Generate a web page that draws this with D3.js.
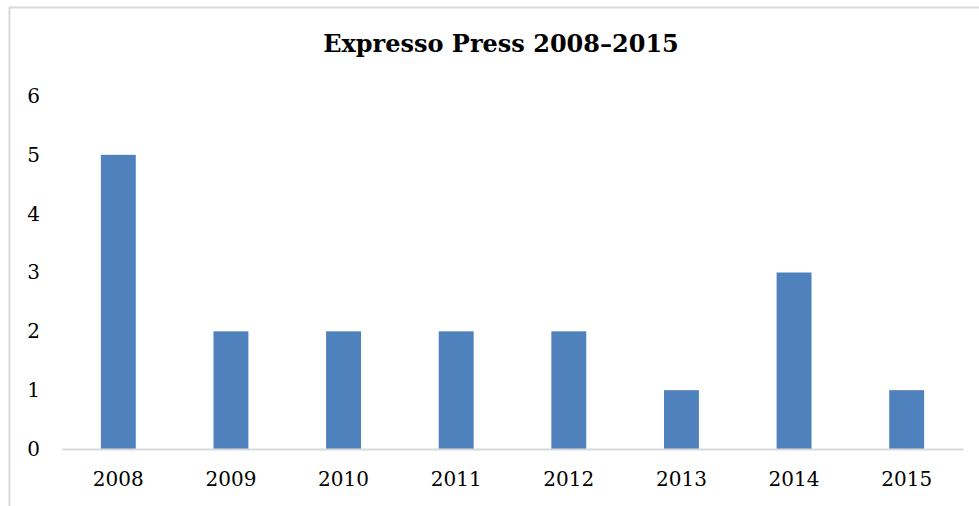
<!DOCTYPE html>
<html><head><meta charset="utf-8">
<script src="https://cdn.jsdelivr.net/npm/d3@7"></script>
<style>body{margin:0;background:#fff}</style>
</head><body>
<svg id="c" width="979" height="506"></svg>
<script>
const categories = ["2008","2009","2010","2011","2012","2013","2014","2015"];
const values = [5,2,2,2,2,1,3,1];
const yTicks = [0,1,2,3,4,5,6];
const title = "Expresso Press 2008–2015";

const svg = d3.select("#c");
svg.append("rect").attr("x",9.5).attr("y",7.5).attr("width",990).attr("height",520)
  .attr("fill","#fff").attr("stroke","#d9d9d9").attr("stroke-width",2);

const x = d3.scaleBand().domain(categories).range([62,963]).paddingInner(0.69).paddingOuter(0.345);
const y = d3.scaleLinear().domain([0,6]).range([449,96]);

svg.append("text").attr("x",501).attr("y",52).attr("text-anchor","middle")
  .attr("font-family","DejaVu Serif").attr("font-weight","bold").attr("font-size",24)
  .text(title);

svg.selectAll(".bar").data(values).enter().append("rect")
  .attr("x",(d,i)=>x(categories[i])).attr("width",x.bandwidth())
  .attr("y",d=>y(d)).attr("height",d=>y(0)-y(d)).attr("fill","#4F81BD");

const xa = svg.append("g").attr("transform","translate(0,449)")
  .call(d3.axisBottom(x).tickSize(0).tickPadding(23));
xa.select(".domain").attr("stroke","#d9d9d9").attr("stroke-width",2);
xa.selectAll("text").attr("font-family","DejaVu Serif").attr("font-size",20).attr("fill","#000").attr("dy","0.71em");

const ya = svg.append("g").attr("transform","translate(40,0)")
  .call(d3.axisLeft(y).tickValues(yTicks).tickSize(0).tickPadding(0).tickFormat(d3.format("d")));
ya.select(".domain").remove();
ya.selectAll("text").attr("font-family","DejaVu Serif").attr("font-size",20).attr("fill","#000");
</script>
</body></html>
